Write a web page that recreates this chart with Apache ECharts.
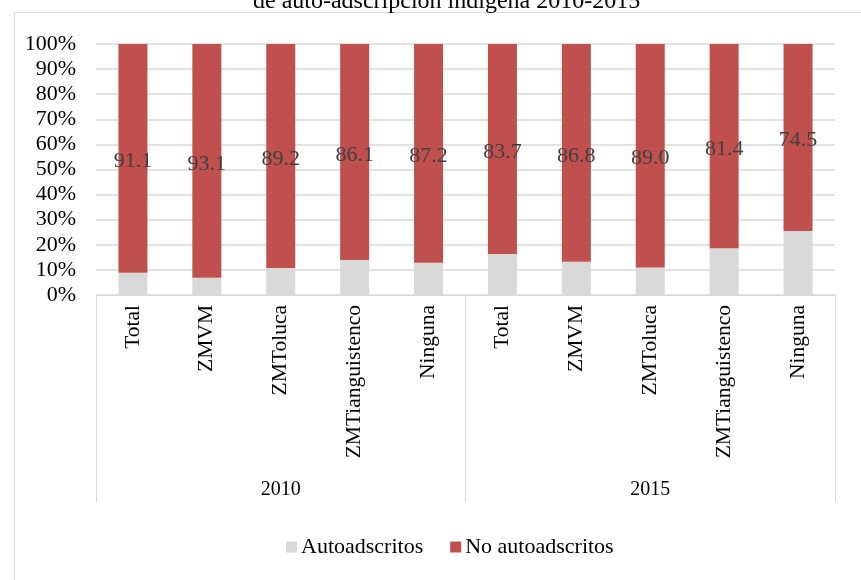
<!DOCTYPE html>
<html><head><meta charset="utf-8">
<script src="https://cdn.jsdelivr.net/npm/echarts@6/dist/echarts.min.js"></script>
<style>html,body{margin:0;padding:0;background:#fff}#c{width:861px;height:580px}</style>
</head><body><div id="c"></div>
<script>
const titleText = 'de auto-adscripción indígena 2010-2015';
const categories = ['Total','ZMVM','ZMToluca','ZMTianguistenco','Ninguna','Total','ZMVM','ZMToluca','ZMTianguistenco','Ninguna'];
const groups = ['2010','2015'];
const autoadscritos = [8.9, 6.9, 10.8, 13.9, 12.8, 16.3, 13.2, 11.0, 18.6, 25.5];
const noAutoadscritos = [91.1, 93.1, 89.2, 86.1, 87.2, 83.7, 86.8, 89.0, 81.4, 74.5];
const yTicks = [0,10,20,30,40,50,60,70,80,90,100];

const serif = '"Liberation Serif","Times New Roman",serif';
const chart = echarts.init(document.getElementById('c'), null, {renderer:'canvas'});
chart.setOption({
  animation:false,
  textStyle:{fontFamily:serif},
  graphic:[{type:'rect',left:12,top:10,shape:{x:0,y:0,width:900,height:600},style:{fill:'none',stroke:'#d9d9d9',lineWidth:1},z:-1}],
  title:{text:titleText,left:248,top:-15,textStyle:{fontFamily:serif,fontSize:24,fontWeight:'normal',color:'#000'}},
  legend:{bottom:17,left:281,itemWidth:11,itemHeight:11,itemGap:27,icon:'rect',
    textStyle:{fontFamily:serif,fontSize:22,color:'#000',padding:[0,0,0,-1]},data:['Autoadscritos','No autoadscritos']},
  grid:{left:96,right:26,top:44,bottom:285},
  xAxis:[{type:'category',data:categories,axisLine:{lineStyle:{color:'#d9d9d9'}},axisTick:{show:false},
      axisLabel:{rotate:90,interval:0,margin:10,fontFamily:serif,fontSize:21.5,color:'#000'}},
    {type:'category',data:groups,position:'bottom',axisLine:{show:false},
      axisTick:{show:true,length:207,alignWithLabel:false,lineStyle:{color:'#d9d9d9'}},
      axisLabel:{margin:185,fontFamily:serif,fontSize:20,color:'#000'}}],
  yAxis:{type:'value',min:yTicks[0],max:yTicks[yTicks.length-1],interval:10,
    axisLine:{show:false},axisTick:{show:false},
    splitLine:{lineStyle:{color:'#d9d9d9',width:1.5}},
    axisLabel:{formatter:'{value}%',fontFamily:serif,fontSize:22,color:'#000',margin:20}},
  series:[
    {name:'Autoadscritos',type:'bar',stack:'s',barWidth:29,data:autoadscritos,itemStyle:{color:'#d9d9d9'}},
    {name:'No autoadscritos',type:'bar',stack:'s',barWidth:29,data:noAutoadscritos,itemStyle:{color:'#c0504d'},
      label:{show:true,position:'inside',offset:[0,3],formatter:p=>p.value.toFixed(1),fontFamily:serif,fontSize:22,color:'#404040'}}
  ]
});
</script></body></html>
